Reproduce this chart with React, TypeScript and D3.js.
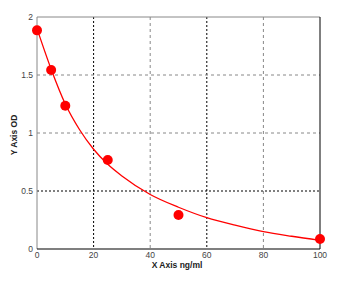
import React from "react";
import * as d3 from "d3";

const pointX = [0, 5, 10, 25, 50, 100];
const pointY = [1.885, 1.543, 1.235, 0.767, 0.293, 0.086];
const curveX = [0, 5, 10, 15, 20, 25, 30, 40, 50, 60, 70, 80, 90, 100];
const curveY = [1.9, 1.55, 1.25, 1.03, 0.86, 0.73, 0.63, 0.47, 0.36, 0.27, 0.205, 0.15, 0.11, 0.075];
const xTicks = [0, 20, 40, 60, 80, 100];
const yTicks = [0, 0.5, 1, 1.5, 2];
const xDarkGrid = [20, 60];
const xLightGrid = [40, 80];
const yDarkGrid = [0.5];
const yLightGrid = [1, 1.5];

export default function App() {
  const W = 355, H = 296;
  const x = d3.scaleLinear().domain([0, 100]).range([37, 320]);
  const y = d3.scaleLinear().domain([0, 2]).range([249, 17]);
  const line = d3
    .line<number>()
    .x((_, i) => x(curveX[i]))
    .y((d) => y(d))
    .curve(d3.curveMonotoneX);
  const font = "Arial, 'Liberation Sans', sans-serif";
  return (
    <svg width={W} height={H} style={{ position: "absolute", left: 0, top: 0 }}>
      <rect x={0} y={0} width={W} height={H} fill="#fff" />
      {xLightGrid.map((v) => (
        <line key={"xl" + v} x1={x(v)} x2={x(v)} y1={y(2)} y2={y(0)} stroke="#888" strokeDasharray="3,3" />
      ))}
      {xDarkGrid.map((v) => (
        <line key={"xd" + v} x1={x(v)} x2={x(v)} y1={y(2)} y2={y(0)} stroke="#000" strokeDasharray="2,2" />
      ))}
      {yLightGrid.map((v) => (
        <line key={"yl" + v} x1={x(0)} x2={x(100)} y1={y(v)} y2={y(v)} stroke="#888" strokeDasharray="3,3" />
      ))}
      {yDarkGrid.map((v) => (
        <line key={"yd" + v} x1={x(0)} x2={x(100)} y1={y(v)} y2={y(v)} stroke="#000" strokeDasharray="2,2" />
      ))}
      <line x1={x(0)} x2={x(100)} y1={y(2)} y2={y(2)} stroke="#888" />
      <line x1={x(0)} x2={x(0)} y1={y(2)} y2={y(0)} stroke="#888" />
      <line x1={x(100)} x2={x(100)} y1={y(2)} y2={y(0)} stroke="#000" />
      <line x1={x(0)} x2={x(100)} y1={y(0)} y2={y(0)} stroke="#000" strokeWidth={1.2} />
      <path d={line(curveY) || ""} fill="none" stroke="#f00" strokeWidth={1.3} />
      {pointX.map((v, i) => (
        <circle key={"p" + i} cx={x(v)} cy={y(pointY[i])} r={5} fill="#f00" />
      ))}
      {xTicks.map((v) => (
        <text key={"xt" + v} x={x(v)} y={258} fontSize={8.5} fontFamily={font} fill="#444" textAnchor="middle">
          {v}
        </text>
      ))}
      {yTicks.map((v) => (
        <text key={"yt" + v} x={33} y={y(v) + 3} fontSize={8.5} fontFamily={font} fill="#444" textAnchor="end">
          {v}
        </text>
      ))}
      <text x={177} y={268} fontSize={8.5} fontWeight="bold" fontFamily={font} fill="#222" textAnchor="middle">
        X Axis ng/ml
      </text>
      <text
        transform={`translate(17,135) rotate(-90)`}
        fontSize={8.5}
        fontWeight="bold"
        fontFamily={font}
        fill="#222"
        textAnchor="middle"
      >
        Y Axis OD
      </text>
    </svg>
  );
}
